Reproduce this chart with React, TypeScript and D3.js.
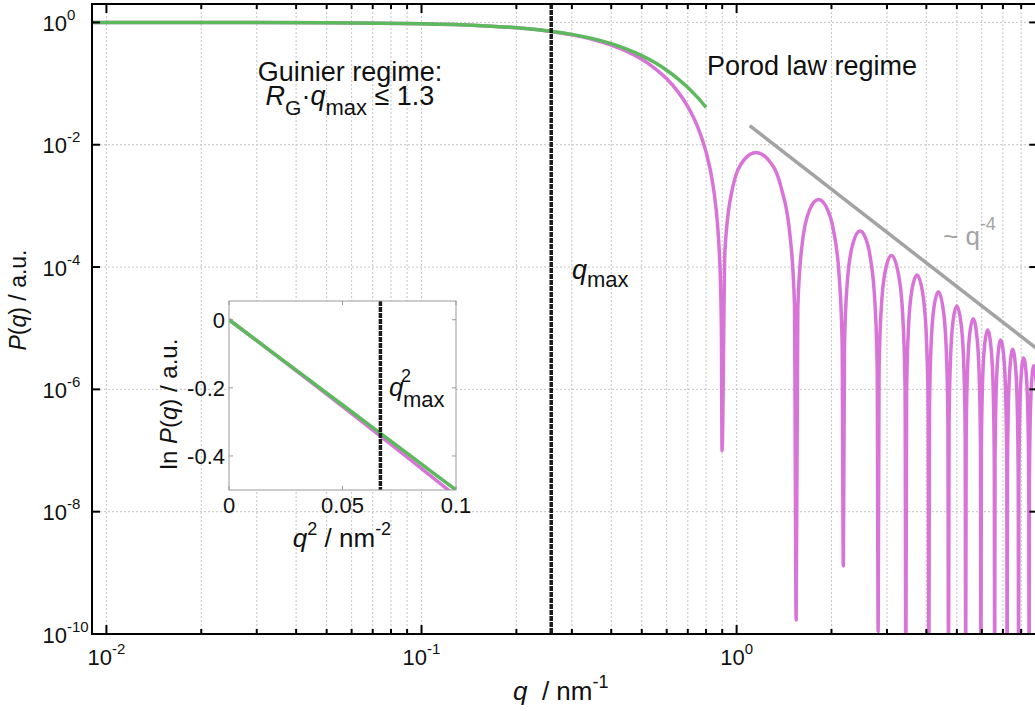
import React from 'react';
import * as d3 from 'd3';

type Pt = [number, number];

// ---- Data ----
// Sphere form factor P(q): main (Guinier) lobe
const mainLobe: Pt[] = [
  [0.009, 0.9999], [0.02, 0.998], [0.05, 0.9876], [0.1, 0.9506], [0.15, 0.8917],
  [0.2, 0.8165], [0.25, 0.7265], [0.3, 0.6279], [0.35, 0.5263], [0.4, 0.4265],
  [0.45, 0.3332], [0.5, 0.2494], [0.55, 0.1778], [0.6, 0.1195], [0.65, 0.0745],
  [0.7, 0.0419], [0.75, 0.0203], [0.8, 0.00758], [0.83, 0.0033], [0.85, 0.00153],
  [0.87, 4.93e-4], [0.88, 2.0e-4], [0.89, 4.2e-5], [0.895, 7.3e-6],
];
// positions of the minima and how deep each one is drawn
const minimaQ = [0.899, 1.545, 2.181, 2.813, 3.444, 4.074, 4.704, 5.333, 5.962, 6.591, 7.22, 7.848, 8.477];
const minimaP = [1e-7, 1.7e-10, 1.3e-9, 1.1e-10, 1e-11, 1e-11, 1e-11, 1e-11, 1e-11, 1e-11, 1e-11, 1e-11, 1e-11];
// side lobes (Porod regime)
const sideLobes: Pt[][] = [
  [[0.918, 1.8e-4], [0.963, 1.61e-3], [1.06, 5.79e-3], [1.153, 7.43e-3], [1.26, 5.68e-3], [1.383, 2.04e-3], [1.48, 3.0e-4], [1.526, 2.46e-5]],
  [[1.564, 2.13e-5], [1.609, 2.05e-4], [1.704, 8.6e-4], [1.819, 1.27e-3], [1.926, 9.58e-4], [2.022, 4.38e-4], [2.117, 6.85e-5], [2.162, 5.83e-6]],
  [[2.2, 5.44e-6], [2.244, 5.42e-5], [2.339, 2.41e-4], [2.464, 3.87e-4], [2.56, 3.05e-4], [2.655, 1.45e-4], [2.75, 2.4e-5], [2.794, 2.09e-6]],
  [[2.832, 1.98e-6], [2.876, 2.01e-5], [2.971, 9.24e-5], [3.102, 1.55e-4], [3.286, 6.17e-5], [3.381, 1.05e-5], [3.425, 9.26e-7]],
  [[3.463, 8.86e-7], [3.507, 9.09e-6], [3.602, 4.28e-5], [3.738, 7.38e-5], [3.917, 3.06e-5], [4.011, 5.31e-6], [4.055, 4.71e-7]],
  [[4.093, 4.54e-7], [4.137, 4.69e-6], [4.232, 2.25e-5], [4.37, 3.95e-5], [4.546, 1.69e-5], [4.641, 2.96e-6], [4.685, 2.65e-7]],
  [[4.723, 2.56e-7], [4.767, 2.66e-6], [4.861, 1.29e-5], [5.0, 2.3e-5], [5.176, 1.0e-5], [5.27, 1.78e-6], [5.314, 1.6e-7]],
  [[5.352, 1.55e-7], [5.396, 1.62e-6], [5.491, 7.92e-6], [5.632, 1.43e-5], [5.805, 6.34e-6], [5.899, 1.14e-6], [5.944, 1.02e-7]],
  [[5.981, 9.96e-8], [6.025, 1.04e-6], [6.12, 5.13e-6], [6.26, 9.38e-6], [6.434, 4.2e-6], [6.528, 7.57e-7], [6.572, 6.83e-8]],
  [[6.61, 6.68e-8], [6.654, 7.02e-7], [6.748, 3.47e-6], [6.888, 6.4e-6], [7.063, 2.89e-6], [7.157, 5.24e-7], [7.201, 4.74e-8]],
  [[7.239, 4.64e-8], [7.283, 4.89e-7], [7.377, 2.43e-6], [7.516, 4.51e-6], [7.691, 2.06e-6], [7.785, 3.74e-7], [7.829, 3.39e-8]],
  [[7.867, 3.33e-8], [7.911, 3.51e-7], [8.005, 1.75e-6], [8.144, 3.27e-6], [8.319, 1.5e-6], [8.414, 2.74e-7], [8.458, 2.49e-8]],
  [[8.495, 2.45e-8], [8.539, 2.59e-7], [8.633, 1.3e-6], [8.772, 2.43e-6], [8.947, 1.12e-6], [9.041, 2.06e-7]],
];
// Guinier approximation
const guinierQ = [0.009, 0.02, 0.05, 0.1, 0.15, 0.2, 0.25, 0.3, 0.35, 0.4, 0.45, 0.5, 0.55, 0.6, 0.65, 0.7, 0.75, 0.8];
const guinierP = [0.9996, 0.998, 0.9876, 0.951, 0.8936, 0.8187, 0.7316, 0.6376, 0.5423, 0.4493, 0.3631, 0.2865, 0.2207, 0.1653, 0.1208, 0.0863, 0.0601, 0.0408];
// Porod q^-4 guide line
const porodQ = [1.1, 9];
const porodP = [0.0205, 4.57e-6];
// q_max
const qMax = 0.258;
const qMax2 = 0.0667;
// inset: ln P vs q^2
const insetQ2 = [0, 0.02, 0.04, 0.06, 0.08, 0.1];
const insetSphereLnP = [0, -0.1007, -0.2029, -0.3064, -0.4114, -0.5179];
const insetGuinierLnP = [0, -0.1, -0.2, -0.3, -0.4, -0.5];
// ticks
const xMajorExp = [-2, -1, 0];
const yMajorExp = [0, -2, -4, -6, -8, -10];
const insetXTicks = [0, 0.05, 0.1];
const insetXTickLabels = ['0', '0.05', '0.1'];
const insetYTicks = [0, -0.2, -0.4];
const insetYTickLabels = ['0', '-0.2', '-0.4'];

const PINK = '#d874d8';
const GREEN = '#5cba5c';
const GRAY = '#a3a3a3';
const GRID = '#c4c4c4';
const FONT = '"Liberation Sans", Arial, Helvetica, sans-serif';

export default function App() {
  const L = 92, R = 1037.3, T = 4, B = 634;
  const x = d3.scaleLog().domain([0.009, 9]).range([L, R]);
  const y = d3.scaleLog().domain([1e-10, 2]).range([B, T]);

  const ix = d3.scaleLinear().domain([0, 0.1]).range([229, 456]);
  const iy = d3.scaleLinear().domain([-0.5, 0.055]).range([490, 301]);

  const pinkSeries: Pt[] = [...mainLobe];
  minimaQ.forEach((q, i) => {
    pinkSeries.push([q, minimaP[i]]);
    pinkSeries.push(...sideLobes[i]);
  });
  const guinier: Pt[] = guinierQ.map((q, i) => [q, guinierP[i]]);
  const porod: Pt[] = porodQ.map((q, i) => [q, porodP[i]]);

  const line = d3.line<Pt>().x(d => x(d[0])).y(d => y(d[1])).curve(d3.curveMonotoneX);
  const straight = d3.line<Pt>().x(d => x(d[0])).y(d => y(d[1]));
  const iline = d3.line<Pt>().x(d => ix(d[0])).y(d => iy(d[1])).curve(d3.curveMonotoneX);

  const xTicks = x.ticks();
  const isMajor = (v: number) => Math.abs(Math.log10(v) - Math.round(Math.log10(v))) < 1e-6;

  const insetSphere: Pt[] = insetQ2.map((q, i) => [q, insetSphereLnP[i]]);
  const insetGuinier: Pt[] = insetQ2.map((q, i) => [q, insetGuinierLnP[i]]);

  return (
    <svg width={1035} height={711} style={{ position: 'absolute', left: 0, top: 0, background: '#fff' }}
      fontFamily={FONT}>
      <defs>
        <clipPath id="main-clip"><rect x={L} y={T} width={R - L} height={B - T} /></clipPath>
        <clipPath id="inset-clip"><rect x={229} y={301} width={227} height={189} /></clipPath>
      </defs>
      <rect x={0} y={0} width={1035} height={711} fill="#fff" />

      {/* grid */}
      <g stroke={GRID} strokeWidth={1} strokeDasharray="2,2">
        {xTicks.map((v, i) => (
          <line key={'gx' + i} x1={x(v)} x2={x(v)} y1={T} y2={B} />
        ))}
        {yMajorExp.filter(e => e > -10).map(e => (
          <line key={'gy' + e} x1={L} x2={R} y1={y(Math.pow(10, e))} y2={y(Math.pow(10, e))} />
        ))}
      </g>

      {/* curves */}
      <g clipPath="url(#main-clip)" fill="none" strokeLinejoin="round">
        <path d={straight(porod) || ''} stroke={GRAY} strokeWidth={3.5} />
        <path d={line(pinkSeries) || ''} stroke={PINK} strokeWidth={3.5} />
        <path d={line(guinier) || ''} stroke={GREEN} strokeWidth={3.5} />
        <line x1={x(qMax)} x2={x(qMax)} y1={T} y2={B} stroke="#1a1a1a" strokeWidth={3.5} strokeDasharray="5,1" />
      </g>

      {/* axes frame */}
      <g stroke="#000" strokeWidth={2} fill="none">
        <line x1={L} x2={L} y1={T - 1} y2={B + 1} />
        <line x1={L - 1} x2={R} y1={B} y2={B} />
        <line x1={L - 1} x2={R} y1={T} y2={T} />
        <line x1={R} x2={R} y1={T} y2={B} />
      </g>
      {/* ticks */}
      <g stroke="#000" strokeWidth={2}>
        {xTicks.map((v, i) => {
          const len = isMajor(v) ? 9 : 5;
          return (
            <g key={'xt' + i}>
              <line x1={x(v)} x2={x(v)} y1={B} y2={B - len} />
              <line x1={x(v)} x2={x(v)} y1={T} y2={T + len} />
            </g>
          );
        })}
        {yMajorExp.map(e => (
          <g key={'yt' + e}>
            <line x1={L} x2={L + 8} y1={y(Math.pow(10, e))} y2={y(Math.pow(10, e))} />
            <line x1={R} x2={R - 8} y1={y(Math.pow(10, e))} y2={y(Math.pow(10, e))} />
          </g>
        ))}
      </g>

      {/* tick labels */}
      <g fontSize={22} fill="#111">
        {xMajorExp.map(e => (
          <text key={'xl' + e} x={x(Math.pow(10, e))} y={665} textAnchor="middle">
            10<tspan dy={-11} fontSize={15}>{String(e)}</tspan>
          </text>
        ))}
        {yMajorExp.map(e => (
          <text key={'yl' + e} x={42.5} y={y(Math.pow(10, e)) + 8.5}>
            10<tspan dy={-11} fontSize={15}>{String(e)}</tspan>
          </text>
        ))}
      </g>

      {/* axis titles */}
      <text x={513} y={700} fontSize={26} fill="#111" style={{ whiteSpace: 'pre' }}>
        <tspan fontStyle="italic">q</tspan>{'  / nm'}<tspan dy={-12} fontSize={18}>-1</tspan>
      </text>
      <text transform="translate(26,300) rotate(-90)" textAnchor="middle" fontSize={23} fill="#111">
        <tspan fontStyle="italic">P</tspan>(<tspan fontStyle="italic">q</tspan>) / a.u.
      </text>

      {/* annotations */}
      <text x={350} y={81} textAnchor="middle" fontSize={27} fill="#111">Guinier regime:</text>
      <text x={350} y={105} textAnchor="middle" fontSize={27} fill="#111" style={{ whiteSpace: 'pre' }}>
        <tspan fontStyle="italic">R</tspan><tspan fontSize={21} dy={10}>G</tspan><tspan dy={-10}>·</tspan><tspan fontStyle="italic">q</tspan><tspan fontSize={22} dy={10}>max</tspan><tspan dy={-10}>{' ≤ 1.3'}</tspan>
      </text>
      <text x={707} y={75} fontSize={27} fill="#111">Porod law regime</text>
      <text x={572} y={279} fontSize={27} fill="#111">
        <tspan fontStyle="italic">q</tspan><tspan fontSize={22} dy={8}>max</tspan>
      </text>
      <text x={943} y={245} fontSize={26} fill={GRAY} style={{ whiteSpace: 'pre' }}>
        {'~ q'}<tspan dy={-15} fontSize={18}>-4</tspan>
      </text>

      {/* inset */}
      <g>
        <rect x={229} y={301} width={227} height={189} fill="#fff" stroke="none" />
        <g clipPath="url(#inset-clip)" fill="none">
          <path d={iline(insetSphere) || ''} stroke={PINK} strokeWidth={3.5} />
          <path d={iline(insetGuinier) || ''} stroke={GREEN} strokeWidth={3.5} />
          <line x1={ix(qMax2)} x2={ix(qMax2)} y1={301} y2={490} stroke="#1a1a1a" strokeWidth={3.5} strokeDasharray="5,1" />
        </g>
        <rect x={229} y={301} width={227} height={189} fill="none" stroke="#999" strokeWidth={1} />
        <g stroke="#999" strokeWidth={1}>
          {insetXTicks.map((v, i) => (
            <g key={'ixt' + i}>
              <line x1={ix(v)} x2={ix(v)} y1={490} y2={486} />
              <line x1={ix(v)} x2={ix(v)} y1={301} y2={305} />
            </g>
          ))}
          {insetYTicks.map((v, i) => (
            <g key={'iyt' + i}>
              <line x1={229} x2={233} y1={iy(v)} y2={iy(v)} />
              <line x1={456} x2={452} y1={iy(v)} y2={iy(v)} />
            </g>
          ))}
        </g>
        <g fontSize={22} fill="#111">
          {insetXTicks.map((v, i) => (
            <text key={'ixl' + i} x={ix(v)} y={513} textAnchor="middle">{insetXTickLabels[i]}</text>
          ))}
          {insetYTicks.map((v, i) => (
            <text key={'iyl' + i} x={225} y={iy(v) + 8} textAnchor="end">{insetYTickLabels[i]}</text>
          ))}
        </g>
        <text x={342} y={547} textAnchor="middle" fontSize={26} fill="#111" style={{ whiteSpace: 'pre' }}>
          <tspan fontStyle="italic">q</tspan><tspan dy={-12} fontSize={18}>2</tspan><tspan dy={12}>{' / nm'}</tspan><tspan dy={-12} fontSize={18}>-2</tspan>
        </text>
        <text transform="translate(177,404) rotate(-90)" textAnchor="middle" fontSize={24} fill="#111" style={{ whiteSpace: 'pre' }}>
          {'ln '}<tspan fontStyle="italic">P</tspan>(<tspan fontStyle="italic">q</tspan>) / a.u.
        </text>
        <text x={389} y={396} fontSize={26} fill="#111" fontStyle="italic">q</text>
        <text x={401} y={382} fontSize={18} fill="#111">2</text>
        <text x={403} y={407} fontSize={22} fill="#111">max</text>
      </g>
    </svg>
  );
}
